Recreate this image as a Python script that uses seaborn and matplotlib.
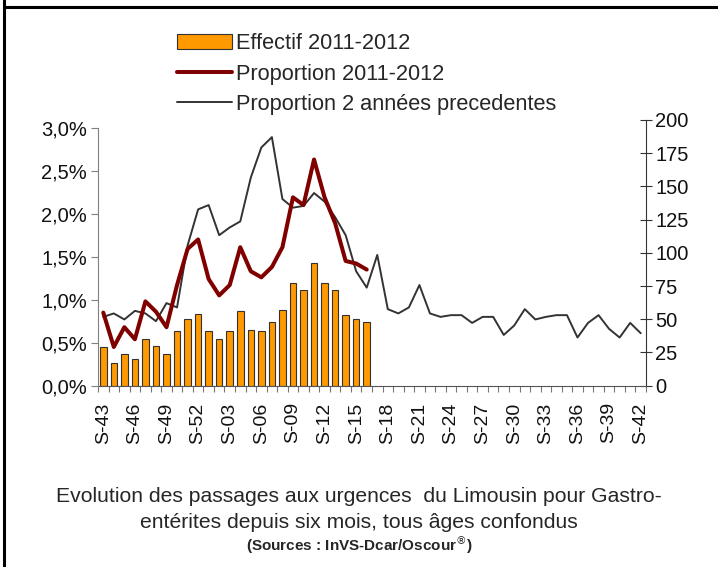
import seaborn as sns
import matplotlib.pyplot as plt
import numpy as np
from matplotlib.lines import Line2D
from matplotlib.patches import Patch
from matplotlib.ticker import FuncFormatter

# weeks S-43 (2011) to S-42 (2012)
weeks = ['S-%02d' % w for w in list(range(43, 53)) + list(range(1, 43))]

# number of visits 2011-2012 (right axis)
effectif = [29, 17, 24, 20, 35, 30, 24, 41, 50, 54, 41, 35, 41, 56, 42, 41,
            48, 57, 77, 72, 92, 77, 72, 53, 50, 48]

# proportion 2011-2012 (%)
prop_2011 = [0.85, 0.45, 0.68, 0.54, 0.98, 0.86, 0.68, 1.17, 1.59, 1.70,
             1.24, 1.05, 1.17, 1.61, 1.33, 1.26, 1.38, 1.61, 2.19, 2.10,
             2.63, 2.19, 1.89, 1.45, 1.42, 1.35]

# proportion of the two previous years (%)
prop_prev = [0.80, 0.84, 0.77, 0.87, 0.84, 0.75, 0.96, 0.91, 1.63, 2.05,
             2.10, 1.75, 1.84, 1.91, 2.42, 2.77, 2.89, 2.17, 2.07, 2.09,
             2.24, 2.14, 1.96, 1.75, 1.33, 1.14, 1.52, 0.89, 0.84, 0.91,
             1.17, 0.84, 0.80, 0.82, 0.82, 0.73, 0.80, 0.80, 0.59, 0.70,
             0.89, 0.77, 0.80, 0.82, 0.82, 0.56, 0.73, 0.82, 0.66, 0.56,
             0.73, 0.61]

sns.set_style('white')
plt.rcParams['font.family'] = ['Liberation Sans', 'DejaVu Sans']

fig = plt.figure(figsize=(7.18, 5.67), dpi=100)
ax = fig.add_axes([0.1365, 0.3198, 0.7632, 0.4686])  # bars, right axis
ax2 = ax.twinx()  # lines, left axis

pos = np.arange(len(weeks))

sns.barplot(x=pos[:len(effectif)], y=effectif, ax=ax, color='#FF9900',
            saturation=1, width=0.62, edgecolor='#333333', linewidth=0.8)
ax.set_xlim(-0.5, len(weeks) - 0.5)
ax.set_ylim(0, 200)
ax.set_yticks(np.arange(0, 201, 25))
ax.yaxis.tick_right()
ax.yaxis.set_label_position('right')

sns.lineplot(x=pos, y=prop_prev, ax=ax2, color='#333333', linewidth=1.4)
sns.lineplot(x=pos[:len(prop_2011)], y=prop_2011, ax=ax2, color='#800000',
             linewidth=2.9)
ax2.set_ylim(0, 3.0 * 265.7 / 258)
ax2.set_yticks(np.arange(0, 3.01, 0.5))
ax2.yaxis.tick_left()
ax2.yaxis.set_label_position('left')
ax2.yaxis.set_major_formatter(
    FuncFormatter(lambda v, p: ('%.1f%%' % v).replace('.', ',')))
ax2.set_ylabel('')
ax.set_ylabel('')

# spines
for a in (ax, ax2):
    for s in ('top', 'right', 'left', 'bottom'):
        a.spines[s].set_visible(False)
ax2.spines['left'].set_visible(True)
ax2.spines['left'].set_color('#808080')
ax2.spines['left'].set_bounds(0, 3.0)
ax.spines['right'].set_visible(True)
ax.spines['right'].set_color('#333333')
ax.spines['bottom'].set_visible(True)
ax.spines['bottom'].set_color('#555555')

ax2.tick_params(axis='y', left=True, right=False, direction='out', length=5,
                color='#808080', labelsize=14.5, pad=3, labelcolor='#111111')
ax.tick_params(axis='y', right=True, left=False, direction='inout', length=9,
               color='#333333', labelsize=14.5, pad=2, labelcolor='#111111')

# x axis: tick marks at boundaries, labels every 3rd week
ax.set_xticks(pos[::3])
ax.set_xticklabels(weeks[::3], rotation=90)
ax.set_xticks(np.arange(-0.5, len(weeks), 1), minor=True)
ax.tick_params(axis='x', which='major', bottom=False, length=0,
               labelsize=14, pad=12, labelcolor='#111111')
ax.tick_params(axis='x', which='minor', bottom=True, direction='out',
               length=4, color='#777777', width=0.8)
ax.set_xlabel('')

# legend
handles = [Patch(facecolor='#FF9900', edgecolor='#333333', linewidth=0.8),
           Line2D([], [], color='#800000', linewidth=2.9),
           Line2D([], [], color='#333333', linewidth=1.4)]
labels = ['Effectif 2011-2012', 'Proportion 2011-2012',
          'Proportion 2 années precedentes']
fig.legend(handles, labels, loc='upper left', bbox_to_anchor=(0.2465, 0.941),
           frameon=False, fontsize=15.7, handlelength=2.5, handletextpad=0.2,
           labelspacing=0.42, borderpad=0, borderaxespad=0)

# caption
cap_font = ['Liberation Sans Narrow', 'Liberation Sans', 'DejaVu Sans']
fig.text(0.5, 1 - 497 / 567, 'Evolution des passages aux urgences  du Limousin pour Gastro-',
         ha='center', va='center', fontsize=15.2, family=cap_font)
fig.text(0.5, 1 - 523 / 567, 'entérites depuis six mois, tous âges confondus',
         ha='center', va='center', fontsize=15.2, family=cap_font)
fig.text(0.5, 1 - 545 / 567, '(Sources : InVS-Dcar/Oscour$^{®}$)',
         ha='center', va='center', fontsize=11, fontweight='bold',
         family=cap_font)

# frame lines
fig.add_artist(Line2D([4 / 718, 4 / 718], [0, 1], color='black', linewidth=2.2,
                      transform=fig.transFigure))
fig.add_artist(Line2D([4 / 718, 1], [1 - 6.5 / 567, 1 - 6.5 / 567],
                      color='black', linewidth=2.2, transform=fig.transFigure))

fig.savefig('out.png', dpi=100)
